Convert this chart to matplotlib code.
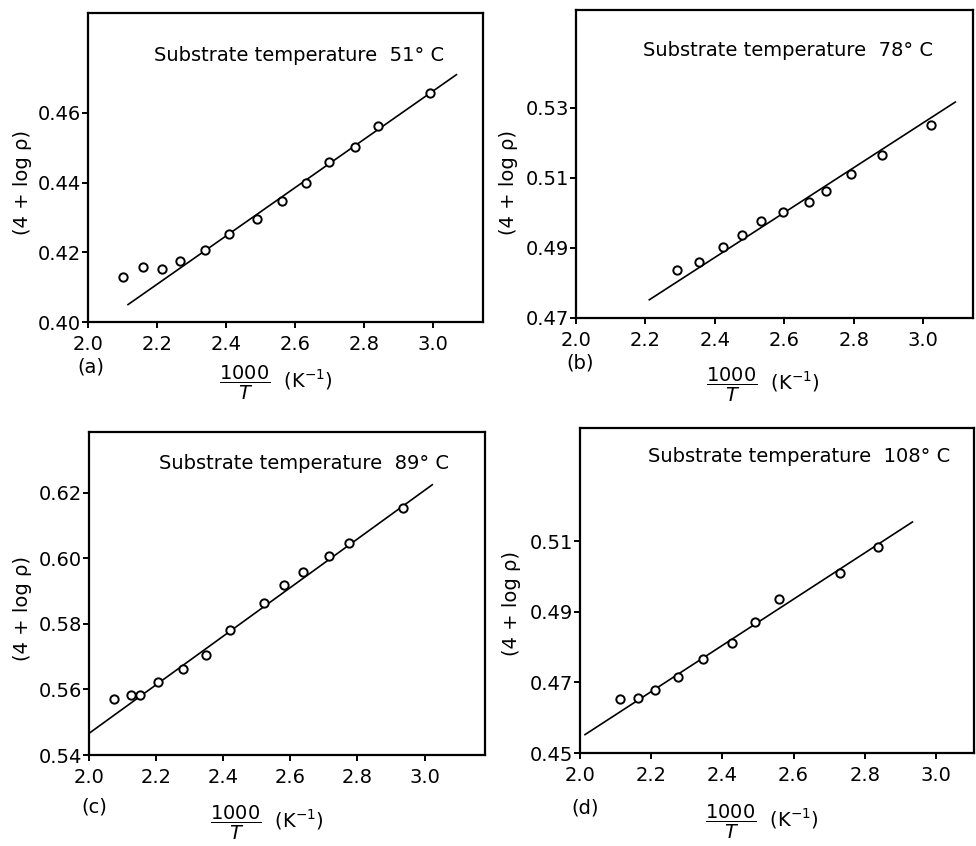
"""Arrhenius-type plots of (4 + log rho) against 1000/T for four substrate temperatures."""

import matplotlib

matplotlib.use("Agg")
import matplotlib.pyplot as plt

# panel (a): substrate temperature 51 C
A_X = [2.102, 2.160, 2.214, 2.268, 2.340, 2.410, 2.491, 2.561, 2.633, 2.700, 2.773, 2.842, 2.991]
A_Y = [0.4128, 0.4158, 0.4152, 0.4176, 0.4206, 0.4252, 0.4296, 0.4348, 0.4398, 0.4459, 0.4501, 0.4563, 0.4658]
A_FIT_X = [2.116, 3.068]
A_FIT_Y = [0.405, 0.471]
A_YTICKS = [0.40, 0.42, 0.44, 0.46]

# panel (b): substrate temperature 78 C
B_X = [2.292, 2.355, 2.424, 2.479, 2.532, 2.596, 2.671, 2.721, 2.791, 2.882, 3.021]
B_Y = [0.4838, 0.4860, 0.4903, 0.4938, 0.4978, 0.5003, 0.5031, 0.5064, 0.5110, 0.5165, 0.5250]
B_FIT_X = [2.211, 3.092]
B_FIT_Y = [0.4752, 0.5317]
B_YTICKS = [0.47, 0.49, 0.51, 0.53]

# panel (c): substrate temperature 89 C
C_X = [2.075, 2.126, 2.152, 2.207, 2.280, 2.348, 2.420, 2.522, 2.581, 2.638, 2.714, 2.776, 2.935]
C_Y = [0.5570, 0.5583, 0.5583, 0.5622, 0.5663, 0.5704, 0.5781, 0.5864, 0.5919, 0.5959, 0.6006, 0.6046, 0.6153]
C_FIT_X = [2.0, 3.023]
C_FIT_Y = [0.5466, 0.6225]
C_YTICKS = [0.54, 0.56, 0.58, 0.60, 0.62]

# panel (d): substrate temperature 108 C
D_X = [2.111, 2.162, 2.211, 2.274, 2.345, 2.426, 2.491, 2.559, 2.730, 2.838]
D_Y = [0.4653, 0.4655, 0.4677, 0.4714, 0.4765, 0.4811, 0.4870, 0.4937, 0.5009, 0.5083]
D_FIT_X = [2.014, 2.934]
D_FIT_Y = [0.4552, 0.5154]
D_YTICKS = [0.45, 0.47, 0.49, 0.51]

XTICKS = [2.0, 2.2, 2.4, 2.6, 2.8, 3.0]
TEMPERATURES = ["51", "78", "89", "108"]
PANEL_TAGS = ["(a)", "(b)", "(c)", "(d)"]

FONT = 14


def _draw_panel(fig, rect, xs, ys, fit_x, fit_y, yticks, xlim, ylim, temp, tag, layout):
    axis = fig.add_axes(rect)
    axis.plot(fit_x, fit_y, color="black", linewidth=1.2)
    axis.plot(
        xs, ys, linestyle="none", marker="o", markersize=6,
        markerfacecolor="white", markeredgecolor="black", markeredgewidth=1.4,
    )
    axis.set_xlim(*xlim)
    axis.set_ylim(*ylim)
    axis.set_xticks(XTICKS, [f"{v:.1f}" for v in XTICKS])
    axis.set_yticks(yticks, [f"{v:.2f}" for v in yticks])
    axis.tick_params(direction="out", length=4, width=1.4, labelsize=FONT, colors="black")
    axis.tick_params(axis="y", pad=1)
    axis.tick_params(axis="x", pad=5)
    for spine in axis.spines.values():
        spine.set_linewidth(1.6)
    title_x, title_y, ylab_x, ylab_y, tag_x, tag_y, xlab_x, xlab_y = layout
    axis.text(title_x, title_y, f"Substrate temperature  {temp}° C",
              transform=axis.transAxes, fontsize=FONT, ha="left", va="center")
    axis.text(ylab_x, ylab_y, "(4 + log ρ)", transform=axis.transAxes,
              fontsize=FONT, rotation=90, ha="center", va="center")
    axis.text(tag_x, tag_y, tag, transform=axis.transAxes, fontsize=FONT,
              ha="left", va="center")
    axis.text(xlab_x, xlab_y, r"$\dfrac{1000}{T}$  (K$^{-1}$)", transform=axis.transAxes,
              fontsize=FONT, ha="center", va="center")
    return axis


def main() -> None:
    fig = plt.figure(figsize=(9.76, 8.46), dpi=100)
    width, height = 976, 846

    def rect(left, right, top, bottom):
        return [left / width, 1 - bottom / height, (right - left) / width, (bottom - top) / height]

    _draw_panel(fig, rect(88, 483, 13, 322), A_X, A_Y, A_FIT_X, A_FIT_Y, A_YTICKS,
                (2.0, 3.145), (0.40, 0.4887), TEMPERATURES[0], PANEL_TAGS[0],
                (0.167, 0.864, -0.165, 0.453, -0.028, -0.146, 0.475, -0.197))
    _draw_panel(fig, rect(576, 973, 10, 318), B_X, B_Y, B_FIT_X, B_FIT_Y, B_YTICKS,
                (2.0, 3.143), (0.47, 0.558), TEMPERATURES[1], PANEL_TAGS[1],
                (0.168, 0.870, -0.171, 0.440, -0.025, -0.146, 0.470, -0.218))
    _draw_panel(fig, rect(89, 485, 432, 755), C_X, C_Y, C_FIT_X, C_FIT_Y, C_YTICKS,
                (2.0, 3.18), (0.54, 0.6386), TEMPERATURES[2], PANEL_TAGS[2],
                (0.177, 0.904, -0.169, 0.455, -0.018, -0.161, 0.450, -0.210))
    _draw_panel(fig, rect(580, 974, 428, 753), D_X, D_Y, D_FIT_X, D_FIT_Y, D_YTICKS,
                (2.0, 3.107), (0.45, 0.542), TEMPERATURES[3], PANEL_TAGS[3],
                (0.172, 0.911, -0.174, 0.460, -0.023, -0.169, 0.462, -0.212))

    fig.savefig("out.png", dpi=100)
    plt.close(fig)


if __name__ == "__main__":
    main()
